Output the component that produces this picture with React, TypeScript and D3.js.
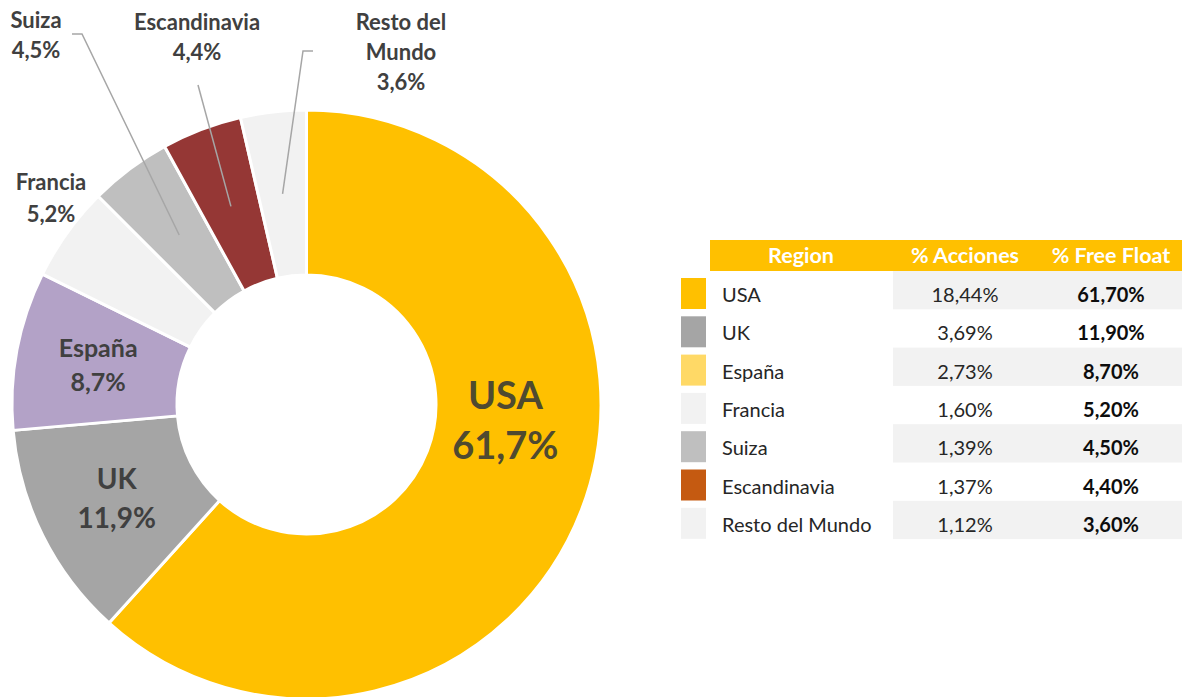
import React from "react";
import * as d3 from "d3";

// ---- data ----
const regions = ["USA", "UK", "España", "Francia", "Suiza", "Escandinavia", "Resto del Mundo"];
const freeFloat = [61.7, 11.9, 8.7, 5.2, 4.5, 4.4, 3.6];
const acciones = [18.44, 3.69, 2.73, 1.6, 1.39, 1.37, 1.12];
const sliceColors = ["#FFC000", "#A5A5A5", "#B3A2C7", "#F2F2F2", "#BFBFBF", "#953735", "#F2F2F2"];
const legendColors = ["#FFC000", "#A5A5A5", "#FFD966", "#F2F2F2", "#BFBFBF", "#C55A11", "#F2F2F2"];
const headers = ["Region", "% Acciones", "% Free Float"];

const W = 1182;
const H = 697;
const FONT = "Lato, 'Open Sans', sans-serif";

const es = d3.formatLocale({ decimal: ",", thousands: ".", grouping: [3], currency: ["", "€"] });
const fmt1 = es.format(".1f");
const fmt2 = es.format(".2f");

// label layout for the donut (inside labels sit on the centroid, outside ones get a leader)
const labelCfg: Record<string, any> = {
  USA: { lines: ["USA"], size: 38, gap: 50, dx: 1, dy: -60, color: "#4F4A30" },
  UK: { lines: ["UK"], size: 28, gap: 39, dx: 0, dy: 0 },
  "España": { lines: ["España"], size: 25, gap: 34, dx: 0, dy: 0 },
  Francia: { lines: ["Francia"], size: 22, gap: 32, x: 51, y: 190 },
  Suiza: { lines: ["Suiza"], size: 22, gap: 30, x: 36, y: 28, leader: [[72, 34], [82, 34]] },
  Escandinavia: { lines: ["Escandinavia"], size: 22, gap: 30, x: 197, y: 30, leader: [[198, 85]] },
  "Resto del Mundo": { lines: ["Resto del", "Mundo"], size: 22, gap: 30, x: 401, y: 30, leader: [[313, 51], [303, 51]] },
};

const Donut = () => {
  const cx = 306.5;
  const cy = 404.5;
  const outer = 294.5;
  const inner = 129.5;

  const pie = d3.pie<number>().sort(null).value(d => d);
  const arcs = pie(freeFloat);
  const arc = d3.arc<d3.PieArcDatum<number>>().innerRadius(inner).outerRadius(outer);

  return (
    <g transform={`translate(${cx},${cy})`}>
      {arcs.map((a, i) => (
        <path key={i} d={arc(a) || ""} fill={sliceColors[i]} stroke="#fff" strokeWidth={3} strokeLinejoin="round" />
      ))}
      {arcs.map((a, i) => {
        const cfg = labelCfg[regions[i]];
        const [mx, my] = arc.centroid(a);
        const lines = [...cfg.lines, fmt1(freeFloat[i]) + "%"];
        const color = cfg.color || "#404040";
        let x: number, y0: number;
        if (cfg.x !== undefined) {
          x = cfg.x - cx;
          y0 = cfg.y - cy;
        } else {
          // centre the block on the centroid
          const n = lines.length;
          x = mx + cfg.dx;
          y0 = my + cfg.dy - ((n - 1) * cfg.gap) / 2 + cfg.size * 0.34;
        }
        const leader = cfg.leader
          ? d3.line()([...cfg.leader.map(([px, py]: number[]) => [px - cx, py - cy]), [mx, my]] as [number, number][])
          : null;
        return (
          <g key={"l" + i}>
            {leader && <path d={leader || ""} fill="none" stroke="#A6A6A6" strokeWidth={1.5} />}
            <text
              textAnchor="middle"
              fontFamily={FONT}
              fontWeight="bold"
              fontSize={cfg.size}
              fill={color}
            >
              {lines.map((t, k) => (
                <tspan key={k} x={x} y={y0 + k * cfg.gap}>
                  {t}
                </tspan>
              ))}
            </text>
          </g>
        );
      })}
    </g>
  );
};

const Table = () => {
  const left = 710;
  const right = W;
  const top = 240;
  const headH = 31;
  const rowH = 38.3;

  const y = d3.scaleBand<string>().domain(regions).range([top + headH, top + headH + rowH * regions.length]);
  const colX = [801, 965, 1111];
  const bandX = 893;

  return (
    <g fontFamily={FONT}>
      <rect x={left} y={top} width={right - left} height={headH} fill="#FFC000" />
      {headers.map((h, i) => (
        <text key={h} x={colX[i]} y={top + 23} textAnchor="middle" fill="#fff" fontWeight="bold" fontSize={21.5}>
          {h}
        </text>
      ))}
      {regions.map((r, i) => {
        const ry = y(r) as number;
        const base = ry + 31;
        return (
          <g key={r}>
            {i % 2 === 0 && <rect x={bandX} y={ry} width={right - bandX} height={y.bandwidth()} fill="#F2F2F2" />}
            <rect x={681} y={ry + 7} width={25} height={31} fill={legendColors[i]} />
            <text x={722} y={base} fontSize={20} fill="#262626">
              {r}
            </text>
            <text x={colX[1]} y={base} textAnchor="middle" fontSize={20} fill="#262626">
              {fmt2(acciones[i]) + "%"}
            </text>
            <text x={colX[2]} y={base} textAnchor="middle" fontSize={20} fontWeight="bold" fill="#0D0D0D">
              {fmt2(freeFloat[i]) + "%"}
            </text>
          </g>
        );
      })}
    </g>
  );
};

export default function App() {
  return (
    <svg width={W} height={H} style={{ position: "absolute", left: 0, top: 0, background: "#fff" }}>
      <Donut />
      <Table />
    </svg>
  );
}
